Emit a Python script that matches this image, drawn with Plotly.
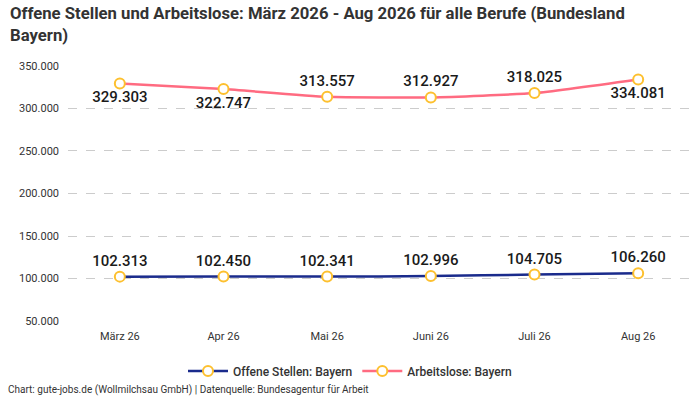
import plotly.graph_objects as go

months = ["März 26", "Apr 26", "Mai 26", "Juni 26", "Juli 26", "Aug 26"]
offene = [102313, 102450, 102341, 102996, 104705, 106260]
arbeitslose = [329303, 322747, 313557, 312927, 318025, 334081]
arb_label_pos = ["bottom center", "bottom center", "top center", "top center", "top center", "bottom center"]
yticks = [50000, 100000, 150000, 200000, 250000, 300000, 350000]

def fmt(v):
    return f"{v:,}".replace(",", ".")

FONT = "Roboto"
marker = dict(size=10, color="white", line=dict(color="#fdc02f", width=2))

L, R, T, B = 68, 10, 65, 78
H = 400 - T - B

fig = go.Figure()
fig.add_trace(go.Scatter(
    x=months, y=offene, name="Offene Stellen: Bayern",
    mode="lines+markers+text",
    line=dict(color="#1a2b8c", width=2.5, shape="spline", smoothing=0.5),
    marker=marker,
    text=[fmt(v) for v in offene], textposition="top center",
    textfont=dict(family=FONT, size=15, color="#1a1a1a", weight=500),
    cliponaxis=False,
))
fig.add_trace(go.Scatter(
    x=months, y=arbeitslose, name="Arbeitslose: Bayern",
    mode="lines+markers+text",
    line=dict(color="#ff6b81", width=2.5, shape="spline", smoothing=0.5),
    marker=marker,
    text=[fmt(v) for v in arbeitslose], textposition=arb_label_pos,
    textfont=dict(family=FONT, size=15, color="#1a1a1a", weight=500),
    cliponaxis=False,
))

fig.update_layout(
    width=700, height=400,
    margin=dict(l=L, r=R, t=T, b=B, autoexpand=False),
    paper_bgcolor="white", plot_bgcolor="white",
    font=dict(family=FONT, color="#333333", size=11),
    xaxis=dict(
        type="category", range=[-0.5, 5.5], showgrid=False, showline=False,
        zeroline=False, ticks="", tickfont=dict(size=11, color="#333333"),
        ticklabelstandoff=6, automargin=False,
    ),
    yaxis=dict(
        range=[49000, 351000], tickvals=yticks, ticktext=[fmt(v) for v in yticks],
        showgrid=True, gridcolor="#cccccc", griddash="dash", gridwidth=1,
        zeroline=False, showline=False, tickfont=dict(size=11, color="#333333"),
        ticklabelstandoff=8, automargin=False,
    ),
    legend=dict(
        orientation="h", xref="container", x=0.5, xanchor="center",
        yref="container", y=(400 - 371) / 400, yanchor="middle",
        font=dict(family=FONT, size=12, color="#333333", weight=500),
        itemwidth=40,
    ),
    showlegend=True,
)
fig.add_annotation(
    text="<b>Offene Stellen und Arbeitslose: März 2026 - Aug 2026 für alle Berufe (Bundesland<br>Bayern)</b>",
    xref="paper", yref="paper", x=-(L - 8) / 622, xanchor="left",
    y=(H + T - 2) / H, yanchor="top", align="left", showarrow=False,
    font=dict(family="Liberation Sans Narrow, " + FONT, size=16.7, color="#333333"),
)
fig.add_annotation(
    text="Chart: gute-jobs.de (Wollmilchsau GmbH) | Datenquelle: Bundesagentur für Arbeit",
    xref="paper", yref="paper", x=-(L - 6) / 622, xanchor="left",
    y=-(B - 2) / H, yanchor="bottom", showarrow=False,
    font=dict(family=FONT, size=10, color="#333333"),
)

fig.write_html("out.html", config={"displayModeBar": False},
               post_script="document.body.style.margin='0';")
